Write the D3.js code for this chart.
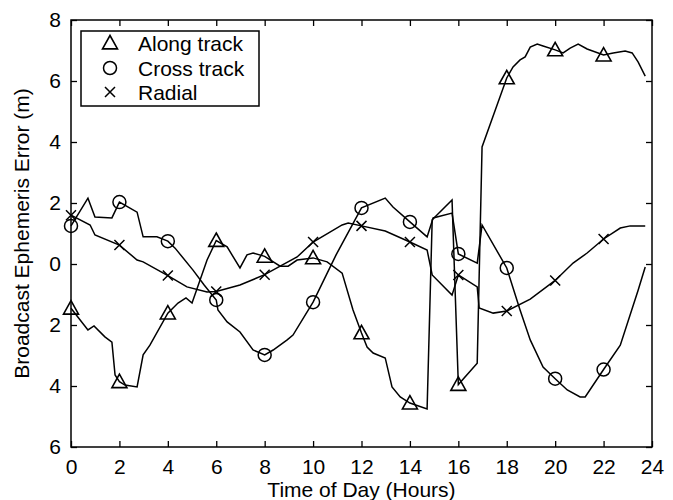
<!DOCTYPE html>
<html><head><meta charset="utf-8">
<script src="https://cdn.jsdelivr.net/npm/d3@7"></script>
<style>html,body{margin:0;padding:0;background:#fff;}svg{display:block;font-family:"Liberation Sans",Arial,Helvetica,sans-serif;}</style>
</head><body><svg id="c" width="673" height="500"></svg>
<script>
// ---- data (hours, metres) ----
const alongHours = [0,0.70,0.95,1.40,1.69,1.82,2,2.23,2.73,2.98,3.26,4,4.42,4.75,5,5.62,6,6.45,6.98,7.27,7.52,8,8.64,8.97,9.34,10,10.58,11.2,11.65,12,12.23,12.48,12.98,13.26,13.6,14,14.71,14.92,15.74,16,16.78,16.98,18,18.26,18.55,18.76,18.97,19.26,19.5,20,20.33,20.62,20.95,21.32,22,22.4,22.89,23.18,23.43,23.72];
const alongErr   = [-1.45,-2.16,-2.03,-2.39,-2.56,-3.64,-3.86,-3.97,-4.03,-2.98,-2.66,-1.61,-1.28,-1.11,-1.28,0.13,0.77,0.56,-0.13,0.30,0.36,0.25,-0.07,-0.07,0.13,0.20,0.07,-0.30,-1.51,-2.26,-2.72,-2.92,-3.08,-4.03,-4.36,-4.56,-4.75,1.45,2.10,-3.95,-3.25,3.84,6.10,6.46,6.69,6.79,7.11,7.21,7.15,7.02,6.92,7.08,7.21,7.05,6.85,6.92,6.98,6.92,6.62,6.16];

const crossHours = [0,0.70,0.99,1.69,2,2.73,2.98,3.55,4,4.3,5.04,5.5,6,6.07,6.45,6.98,7.52,8,8.35,8.93,9.17,10,10.95,12,12.98,13.3,14,14.71,14.96,15.74,16,16.78,16.98,18,18.55,18.97,19.5,20,20.5,21.03,21.24,22,22.69,23.43,23.72];
const crossErr   = [1.25,2.16,1.54,1.51,2.03,1.70,0.89,0.89,0.75,0.52,-0.20,-0.69,-1.18,-1.51,-1.90,-2.23,-2.82,-2.98,-2.82,-2.49,-2.33,-1.25,0.30,1.84,2.16,1.87,1.38,0.89,1.51,1.67,0.33,0.03,1.28,-0.13,-1.51,-2.49,-3.38,-3.76,-4.13,-4.36,-4.36,-3.46,-2.66,-0.85,-0.10];

const radialHours = [0,0.79,0.99,2,2.73,2.98,4,4.79,5.62,6,6.98,8,8.64,9.34,10,11.2,11.45,12,12.98,14,14.71,14.92,15.74,16,16.78,16.86,17.44,18,18.97,20,20.74,21.32,22,22.69,23.1,23.72];
const radialErr   = [1.60,1.28,0.95,0.62,0.13,0.07,-0.38,-0.75,-0.92,-0.90,-0.69,-0.35,-0.07,0.23,0.72,1.28,1.34,1.25,1.08,0.72,0.46,-0.36,-1.02,-0.36,-0.75,-1.44,-1.61,-1.54,-1.15,-0.54,0.03,0.36,0.82,1.18,1.25,1.25];

const seriesNames = ["Along track","Cross track","Radial"];
const xTicks = [0,2,4,6,8,10,12,14,16,18,20,22,24];
const yTicks = [8,6,4,2,0,-2,-4,-6];
const yTickLabels = ["8","6","4","2","0","2","4","6"];
const xTitle = "Time of Day (Hours)";
const yTitle = "Broadcast Ephemeris Error (m)";

// ---- layout ----
const L = 71, R = 652, T = 20, B = 447;
const FS = 21;
const svg = d3.select("#c");
const x = d3.scaleLinear().domain([0,24]).range([L,R]);
const y = d3.scaleLinear().domain([-6,8]).range([B,T]);

const series = [
  {name: seriesNames[0], h: alongHours, v: alongErr, marker: "tri"},
  {name: seriesNames[1], h: crossHours, v: crossErr, marker: "circ"},
  {name: seriesNames[2], h: radialHours, v: radialErr, marker: "x"}
];

const line = d3.line().x(d => x(d[0])).y(d => y(d[1]));

function drawMarker(g, type, cx, cy) {
  if (type === "tri") {
    const s = 7.5;
    g.append("path").attr("d", `M${cx},${cy - s}L${cx + s},${cy + s*0.78}L${cx - s},${cy + s*0.78}Z`)
      .attr("fill","none").attr("stroke","#000").attr("stroke-width",1.6);
  } else if (type === "circ") {
    g.append("circle").attr("cx",cx).attr("cy",cy).attr("r",6.5)
      .attr("fill","none").attr("stroke","#000").attr("stroke-width",1.5);
  } else {
    const s = 5;
    g.append("path").attr("d", `M${cx-s},${cy-s}L${cx+s},${cy+s}M${cx-s},${cy+s}L${cx+s},${cy-s}`)
      .attr("fill","none").attr("stroke","#000").attr("stroke-width",1.5);
  }
}

// lines
const gData = svg.append("g");
series.forEach(s => {
  const pts = s.h.map((h,i) => [h, s.v[i]]);
  gData.append("path").datum(pts).attr("d", line)
    .attr("fill","none").attr("stroke","#000").attr("stroke-width",1.5).attr("stroke-linejoin","miter");
  pts.filter(p => Math.abs(p[0] % 2) < 1e-9).forEach(p => drawMarker(gData, s.marker, x(p[0]), y(p[1])));
});

// axes box with inward ticks on all sides
const gAx = svg.append("g");
const xAxB = d3.axisBottom(x).tickValues(xTicks).tickSize(-6).tickPadding(12).tickFormat(d3.format("d"));
const xAxT = d3.axisTop(x).tickValues(xTicks).tickSize(-6).tickFormat("");
const yAxL = d3.axisLeft(y).tickValues(yTicks).tickSize(-6).tickPadding(10).tickFormat((d,i) => yTickLabels[i]);
const yAxR = d3.axisRight(y).tickValues(yTicks).tickSize(-6).tickFormat("");
[[xAxB,`translate(0,${B})`],[xAxT,`translate(0,${T})`],[yAxL,`translate(${L},0)`],[yAxR,`translate(${R},0)`]].forEach(([ax,tr]) => {
  const g = gAx.append("g").attr("transform", tr).call(ax);
  g.select(".domain").remove();
  g.selectAll(".tick line").attr("stroke","#000").attr("stroke-width",1.3);
  g.selectAll(".tick text").attr("fill","#000").style("font-size", FS+"px").style("font-family","Liberation Sans, Arial, sans-serif");
});
gAx.append("rect").attr("x",L).attr("y",T).attr("width",R-L).attr("height",B-T)
  .attr("fill","none").attr("stroke","#000").attr("stroke-width",1.5);

// titles
svg.append("text").attr("x",(L+R)/2).attr("y",497).attr("text-anchor","middle")
  .style("font-size",FS+"px").text(xTitle);
svg.append("text").attr("transform",`translate(29,${(T+B)/2}) rotate(-90)`).attr("text-anchor","middle")
  .style("font-size",FS+"px").text(yTitle);

// legend
const lg = svg.append("g");
lg.append("rect").attr("x",81).attr("y",31).attr("width",178).attr("height",75)
  .attr("fill","#fff").attr("stroke","#000").attr("stroke-width",1.5);
const rowY = [43,68,92];
series.forEach((s,i) => {
  drawMarker(lg, s.marker, 110, rowY[i] + (s.marker === "tri" ? 0 : 0));
  lg.append("text").attr("x",138).attr("y",rowY[i]+7.5).style("font-size",FS+"px").text(s.name);
});
</script></body></html>
